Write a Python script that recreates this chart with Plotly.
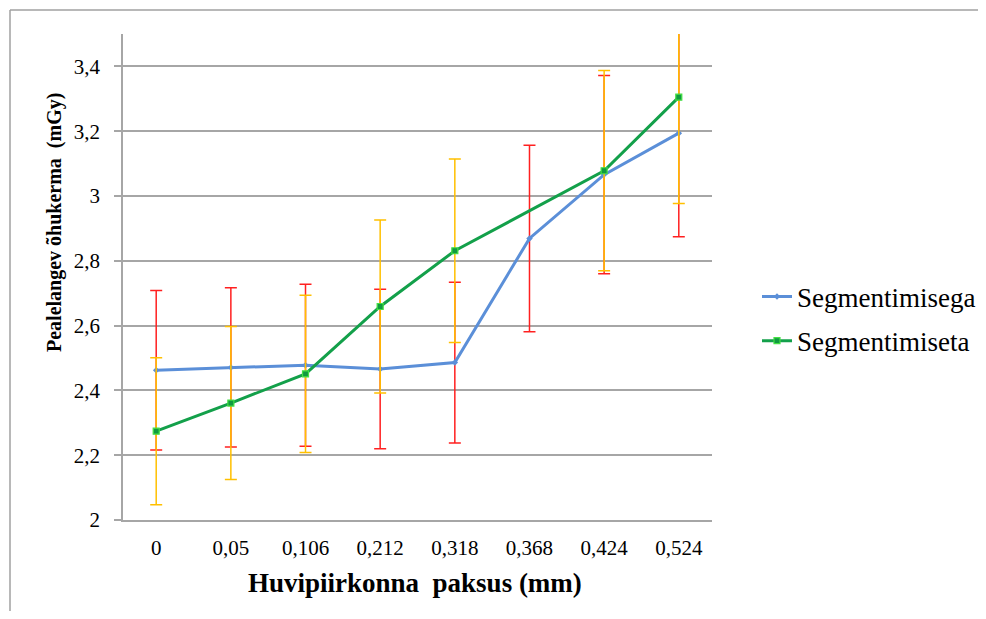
import plotly.graph_objects as go

categories = ["0", "0,05", "0,106", "0,212", "0,318", "0,368", "0,424", "0,524"]
seg_with = [2.462, 2.471, 2.478, 2.466, 2.486, 2.869, 3.066, 3.194]
seg_with_err = [0.246, 0.246, 0.250, 0.246, 0.248, 0.288, 0.306, 0.320]
seg_without = [2.274, 2.361, 2.451, 2.659, 2.831, None, 3.078, 3.305]
seg_without_err = [0.227, 0.236, 0.243, 0.267, 0.283, None, 0.309, 0.328]
y_ticks = [2, 2.2, 2.4, 2.6, 2.8, 3, 3.2, 3.4]

FONT = "Liberation Serif"
GRID = "#a6a6a6"

# page body has an 8px margin -> figure is drawn from (8, 8); keep it inside the window
W, H = 970, 603
PLOT_L, PLOT_R, PLOT_T, PLOT_B = 123, 712, 34, 520   # page pixels
L, T = PLOT_L - 8, PLOT_T - 8
R = 8 + W - PLOT_R
B = 8 + H - PLOT_B
PW, PH = W - L - R, H - T - B

def px_x(p):  # absolute page pixel -> paper x
    return (p - 8 - L) / PW

def px_y(p):  # absolute page pixel -> paper y
    return (H - B - (p - 8)) / PH

fig = go.Figure()
fig.add_trace(go.Scatter(
    x=categories, y=seg_with, name="Segmentimisega", mode="lines+markers",
    line=dict(color="#5b8fd8", width=3),
    marker=dict(symbol="diamond", size=5, color="#5b8fd8"),
    error_y=dict(type="data", array=seg_with_err, visible=True,
                 color="#ff2020", thickness=1.5, width=6),
    legendgroup="a",
))
fig.add_trace(go.Scatter(
    x=categories, y=seg_without, name="Segmentimiseta", mode="lines+markers",
    connectgaps=True,
    line=dict(color="#13a04a", width=3),
    marker=dict(symbol="square", size=6, color="#109a40",
                line=dict(color="#44e044", width=1.2)),
    error_y=dict(type="data", array=seg_without_err, visible=True,
                 color="#ffc000", thickness=1.5, width=6),
    legendgroup="b",
))

fig.update_layout(
    width=W, height=H,
    margin=dict(l=L, r=R, t=T, b=B, autoexpand=False),
    paper_bgcolor="white", plot_bgcolor="white",
    separators=", ",
    font=dict(family=FONT, size=21, color="black"),
    showlegend=True,
    legend=dict(x=px_x(757), y=px_y(319), xanchor="left", yanchor="middle",
                font=dict(family=FONT, size=27, color="black"),
                tracegroupgap=6, bgcolor="rgba(0,0,0,0)"),
    xaxis=dict(type="category", showgrid=False, showline=True,
               linecolor=GRID, linewidth=1.5, ticks="",
               ticklabelstandoff=8,
               tickfont=dict(family=FONT, size=21), zeroline=False),
    yaxis=dict(range=[2, 3.5], tickvals=y_ticks, showgrid=True,
               gridcolor=GRID, gridwidth=1.5, showline=True,
               linecolor=GRID, linewidth=1.5, ticks="outside",
               ticklen=7, tickcolor=GRID, tickwidth=1.5,
               ticklabelstandoff=10,
               tickfont=dict(family=FONT, size=21), zeroline=False),
    annotations=[
        dict(text="<b>Pealelangev õhukerma  (mGy)</b>", textangle=-90,
             xref="paper", yref="paper", x=px_x(55), y=px_y(223),
             xanchor="center", yanchor="middle", showarrow=False,
             font=dict(family=FONT, size=20, color="black")),
        dict(text="<b>Huvipiirkonna  paksus (mm)</b>",
             xref="paper", yref="paper", x=px_x(415), y=px_y(583),
             xanchor="center", yanchor="middle", showarrow=False,
             font=dict(family=FONT, size=27, color="black")),
    ],
    shapes=[
        dict(type="line", xref="paper", yref="paper",
             x0=px_x(10), x1=px_x(1000), y0=px_y(10), y1=px_y(10),
             line=dict(color="#a0a0a0", width=1.5)),
        dict(type="line", xref="paper", yref="paper",
             x0=px_x(10), x1=px_x(10), y0=px_y(10), y1=px_y(640),
             line=dict(color="#a0a0a0", width=1.5)),
    ],
)

fig.write_html("out.html")
